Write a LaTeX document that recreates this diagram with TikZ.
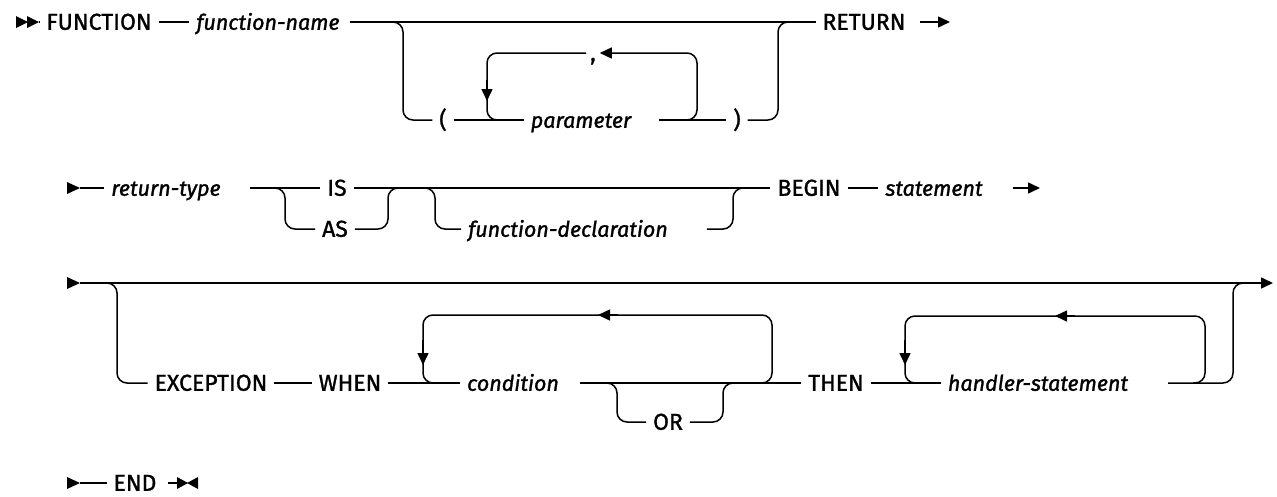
\documentclass[tikz,border=0pt]{standalone}
\usepackage{fontspec}
\setmainfont{Fira Sans}[FakeBold=1.4, UprightFeatures={FakeBold=1.2}]
\usetikzlibrary{arrows.meta}
\newcommand\kwf{\fontsize{23}{27}\selectfont}
\newcommand\varf{\fontsize{21.5}{25}\selectfont\itshape}
\begin{document}
\begin{tikzpicture}[x=1pt,y=-1pt,line width=1.5pt,
  >={Triangle[length=12pt,width=11pt]},
  kw/.style={font=\kwf, inner sep=0pt, outer sep=7pt, text height=15.5pt, text depth=0pt},
  var/.style={kw, font=\varf},
  rc/.style={rounded corners=10pt}]
\useasboundingbox (0,0) rectangle (1277,496);
% ---------- row 1
\node[kw] (fn) at (99,22) {FUNCTION};
\fill (16,16) -- (28,22) -- (16,28) -- cycle;
\fill (27,16) -- (39,22) -- (27,28) -- cycle;
\coordinate (s1) at (39,22);
\draw (s1) -- (fn.west);
\node[var] (fname) at (268,22) {function-name};
\draw (fn.east) -- (fname.west);
\node[kw] (ret) at (864,22) {RETURN};
\coordinate (a1) at (403,22);
\coordinate (a2) at (778,22);
\draw ([xshift=3pt]fname.east) -- (ret.west);
\node[kw] (lp) at (443,120) {(};
\node[var] (param) at (581,120) {parameter};
\node[kw] (rp) at (737,120) {)};
\draw[rc] ([xshift=-12pt]a1) -- (a1) |- (lp.west);
\draw (lp.east) -- (param.west);
\draw ([xshift=21pt]param.east) -- (rp.west);
\draw[rc] (rp.east) -| (a2) -- ++(12,0);
\coordinate (q1) at (487,120);
\coordinate (q2) at (697,120);
\coordinate (p1) at (487,53);
\coordinate (p2) at (697,53);
\node[kw, outer sep=4pt] (comma) at (593,53) {,};
\draw[rc,->] ([xshift=-12pt]q2) -- (q2) -- (p2) -- (comma.east);
\draw[rc] (comma.west) -- (p1) -- (q1) -- ([xshift=12pt]q1);
\draw[->] (q1) ++(0,-40) -- ++(0,21);
\coordinate (e1) at (950,22);
\draw[->] ([xshift=8pt]ret.east) -- (e1);
% ---------- row 2
\fill (67,182) -- (80,188) -- (67,194) -- cycle;
\coordinate (s2) at (80,188);
\node[var] (rt) at (166,188) {return-type};
\draw (s2) -- (rt.west);
\node[kw] (is) at (337,188) {IS};
\node[kw] (as) at (335,229) {AS};
\coordinate (b1) at (285,188);
\coordinate (b2) at (388,188);
\coordinate (b3) at (435,188);
\coordinate (b4) at (733,188);
\draw ([xshift=22pt]rt.east) -- (is.west);
\draw[rc] ([xshift=-12pt]b1) -- (b1) |- (as.west);
\draw[rc] (as.east) -| (b2) -- ++(12,0);
\node[var] (fdecl) at (568,229) {function-declaration};
\node[kw] (kbegin) at (809,188) {BEGIN};
\draw (is.east) -- (kbegin.west);
\draw[rc] ([xshift=-12pt]b3) -- (b3) |- (fdecl.west);
\draw[rc] ([xshift=32pt]fdecl.east) -| (b4) -- ++(12,0);
\node[var] (stmt) at (934,188) {statement};
\draw (kbegin.east) -- (stmt.west);
\coordinate (e2) at (1040,188);
\draw[->] ([xshift=23pt]stmt.east) -- (e2);
% ---------- row 3
\fill (67,277) -- (80,283) -- (67,289) -- cycle;
\coordinate (s3) at (80,283);
\coordinate (e3) at (1273,283);
\draw[->] (s3) -- (e3);
\coordinate (c1) at (117,283);
\coordinate (c2) at (1233,283);
\node[kw] (exc) at (211,383) {EXCEPTION};
\draw[rc] ([xshift=-12pt]c1) -- (c1) |- (exc.west);
\node[kw] (when) at (350,383) {WHEN};
\draw (exc.east) -- (when.west);
\node[var] (cond) at (513,383) {condition};
\draw (when.east) -- (cond.west);
\node[kw] (then) at (836,383) {THEN};
\draw ([xshift=14pt]cond.east) -- (then.west);
\node[kw] (or) at (668,422) {OR};
\coordinate (d1) at (617,383);
\coordinate (d2) at (723,383);
\draw[rc] ([xshift=-12pt]d1) -- (d1) |- (or.west);
\draw[rc] (or.east) -| (d2) -- ++(12,0);
\coordinate (k1) at (423,383);
\coordinate (k2) at (772,383);
\coordinate (k3) at (423,315);
\coordinate (k4) at (772,315);
\draw[rc] ([xshift=-12pt]k2) -- (k2) -- (k4) -- (k3) -- (k1) -- ([xshift=12pt]k1);
\coordinate (m1) at (598,315);
\draw[->] ([xshift=20pt]m1) -- (m1);
\draw[->] (k1) ++(0,-43) -- ++(0,25);
\node[var] (hs) at (1038,383) {handler-statement};
\draw (then.east) -- (hs.west);
\draw[rc] ([xshift=33pt]hs.east) -| (c2) -- ++(12,0);
\coordinate (h1) at (905,383);
\coordinate (h2) at (1205,383);
\coordinate (h3) at (905,316);
\coordinate (h4) at (1205,316);
\draw[rc] ([xshift=-12pt]h2) -- (h2) -- (h4) -- (h3) -- (h1) -- ([xshift=12pt]h1);
\coordinate (m2) at (1055,316);
\draw[->] ([xshift=20pt]m2) -- (m2);
\draw[->] (h1) ++(0,-43) -- ++(0,25);
% ---------- row 4
\fill (67,477) -- (80,483) -- (67,489) -- cycle;
\coordinate (s4) at (80,483);
\node[kw] (endkw) at (135,483) {END};
\draw (s4) -- (endkw.west);
\coordinate (t4) at (178,483);
\draw ([xshift=5pt]endkw.east) -- (t4);
\fill (177,477) -- (188,483) -- (177,489) -- cycle;
\fill (198,477) -- (187,483) -- (198,489) -- cycle;
\end{tikzpicture}
\end{document}
